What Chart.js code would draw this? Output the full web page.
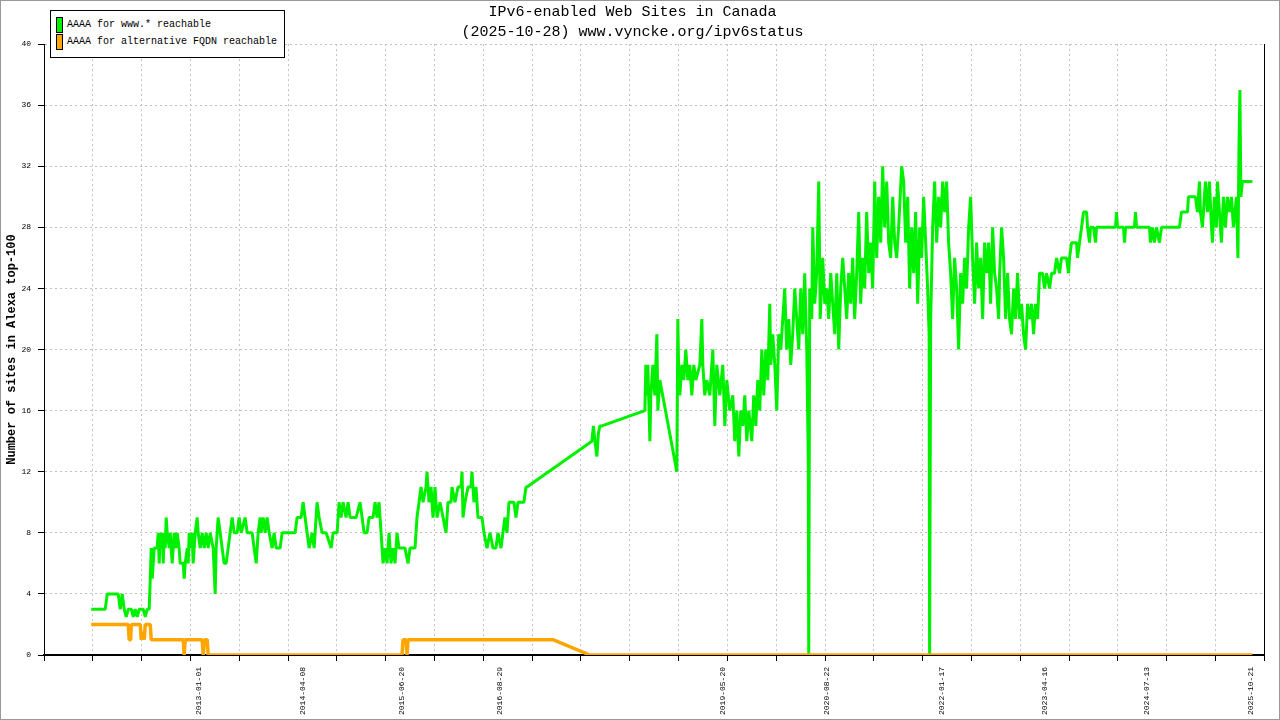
<!DOCTYPE html>
<html>
<head>
<meta charset="utf-8">
<title>IPv6-enabled Web Sites in Canada</title>
<script src="https://cdn.jsdelivr.net/npm/chart.js@4.4.1/dist/chart.umd.min.js"></script>
<style>
  html, body { margin: 0; padding: 0; background: #fff; overflow: hidden; }
  #wrap { position: relative; width: 1280px; height: 720px; }
  #frame { position: absolute; left: 0; top: 0; width: 1280px; height: 720px; box-sizing: border-box; border: 1px solid #999; pointer-events: none; }
  #legend { position: absolute; left: 50px; top: 10px; width: 235px; height: 48px; box-sizing: border-box; border: 1px solid #000; background: #fff; font-family: 'Liberation Mono', monospace; font-size: 10px; color: #000; }
  #legend .item { position: absolute; left: 5px; height: 16px; }
  #legend .swatch { position: absolute; left: 0; top: 0; width: 7px; height: 16px; box-sizing: border-box; border: 1px solid #000; }
  #legend .text { position: absolute; left: 11px; top: 0; line-height: 16px; white-space: nowrap; }
</style>
</head>
<body>
<div id="wrap">
  <canvas id="ipv6Chart" width="1280" height="720"></canvas>
  <div id="legend"></div>
  <div id="frame"></div>
</div>
<script>
// measurement dates as decimal years, values = number of sites
const wwwYears = [
  2011.689, 2011.859, 2011.884, 2012.017, 2012.042, 2012.066, 2012.090, 2012.115, 2012.139, 2012.176,
  2012.200, 2012.224, 2012.249, 2012.273, 2012.321, 2012.346, 2012.370, 2012.394, 2012.407, 2012.419,
  2012.431, 2012.443, 2012.455, 2012.492, 2012.504, 2012.516, 2012.528, 2012.540, 2012.553, 2012.565,
  2012.577, 2012.589, 2012.601, 2012.613, 2012.638, 2012.650, 2012.674, 2012.698, 2012.723, 2012.735,
  2012.759, 2012.771, 2012.808, 2012.820, 2012.832, 2012.857, 2012.869, 2012.881, 2012.893, 2012.917,
  2012.929, 2012.954, 2012.978, 2012.990, 2013.015, 2013.039, 2013.063, 2013.088, 2013.112, 2013.136,
  2013.173, 2013.197, 2013.209, 2013.221, 2013.233, 2013.258, 2013.282, 2013.306, 2013.331, 2013.355,
  2013.379, 2013.404, 2013.428, 2013.465, 2013.489, 2013.513, 2013.562, 2013.586, 2013.647, 2013.671,
  2013.696, 2013.720, 2013.744, 2013.756, 2013.781, 2013.805, 2013.829, 2013.854, 2013.890, 2013.914,
  2013.939, 2013.987, 2014.012, 2014.170, 2014.194, 2014.243, 2014.267, 2014.291, 2014.316, 2014.340,
  2014.377, 2014.401, 2014.437, 2014.462, 2014.498, 2014.547, 2014.608, 2014.632, 2014.681, 2014.705,
  2014.729, 2014.754, 2014.790, 2014.814, 2014.839, 2014.912, 2014.960, 2014.985, 2015.009, 2015.045,
  2015.070, 2015.118, 2015.143, 2015.167, 2015.191, 2015.216, 2015.240, 2015.264, 2015.289, 2015.313,
  2015.337, 2015.361, 2015.386, 2015.410, 2015.434, 2015.507, 2015.544, 2015.568, 2015.629, 2015.653,
  2015.678, 2015.702, 2015.726, 2015.763, 2015.775, 2015.799, 2015.824, 2015.848, 2015.872, 2015.897,
  2015.933, 2015.970, 2016.006, 2016.030, 2016.067, 2016.079, 2016.115, 2016.152, 2016.188, 2016.201,
  2016.213, 2016.237, 2016.274, 2016.310, 2016.322, 2016.346, 2016.371, 2016.395, 2016.444, 2016.468,
  2016.505, 2016.541, 2016.578, 2016.614, 2016.638, 2016.675, 2016.699, 2016.723, 2016.748, 2016.772,
  2016.833, 2016.857, 2016.882, 2016.954, 2016.979, 2016.991,
  2017.781, 2017.800, 2017.818, 2017.842, 2017.860, 2017.879, 2017.903,
  2018.426, 2018.438, 2018.450, 2018.462, 2018.487, 2018.499, 2018.523, 2018.547, 2018.572, 2018.584,
  2018.608, 2018.815, 2018.827, 2018.839, 2018.851, 2018.876, 2018.900, 2018.924, 2018.949, 2018.973,
  2018.997, 2019.022, 2019.046, 2019.095, 2019.119, 2019.131, 2019.155, 2019.180, 2019.216, 2019.253,
  2019.277, 2019.301, 2019.338, 2019.374, 2019.399, 2019.423, 2019.459, 2019.496, 2019.520, 2019.545,
  2019.569, 2019.593, 2019.618, 2019.642, 2019.666, 2019.691, 2019.727, 2019.751, 2019.776, 2019.800,
  2019.824, 2019.849, 2019.873, 2019.897, 2019.922, 2019.946, 2019.958, 2019.982, 2020.007, 2020.031,
  2020.055, 2020.080, 2020.104, 2020.128, 2020.152, 2020.177, 2020.201, 2020.225, 2020.250, 2020.274,
  2020.298, 2020.323, 2020.347, 2020.371, 2020.396, 2020.414, 2020.420, 2020.432, 2020.457, 2020.469,
  2020.493, 2020.517, 2020.542, 2020.560, 2020.590, 2020.615, 2020.639, 2020.663, 2020.688, 2020.712,
  2020.736, 2020.761, 2020.785, 2020.809, 2020.834, 2020.858, 2020.882, 2020.906, 2020.931, 2020.955,
  2020.979, 2021.004, 2021.028, 2021.052, 2021.077, 2021.101, 2021.125, 2021.150, 2021.174, 2021.198,
  2021.223, 2021.247, 2021.271, 2021.296, 2021.320, 2021.344, 2021.369, 2021.393, 2021.417, 2021.442,
  2021.466, 2021.490, 2021.514, 2021.551, 2021.575, 2021.600, 2021.624, 2021.648, 2021.673, 2021.697,
  2021.721, 2021.746, 2021.770, 2021.794, 2021.818, 2021.843, 2021.867, 2021.885, 2021.891, 2021.904,
  2021.928, 2021.952, 2021.977, 2022.001, 2022.025, 2022.050, 2022.074, 2022.098, 2022.122, 2022.147,
  2022.171, 2022.195, 2022.220, 2022.244, 2022.268, 2022.293, 2022.317, 2022.341, 2022.366, 2022.390,
  2022.414, 2022.439, 2022.463, 2022.487, 2022.512, 2022.536, 2022.560, 2022.585, 2022.609, 2022.633,
  2022.658, 2022.682, 2022.706, 2022.731, 2022.743, 2022.767, 2022.791, 2022.816, 2022.840, 2022.864,
  2022.888, 2022.913, 2022.937, 2022.961, 2022.986, 2023.010, 2023.034, 2023.059, 2023.083, 2023.107,
  2023.132, 2023.156, 2023.180, 2023.205, 2023.229, 2023.265, 2023.290, 2023.314, 2023.351, 2023.375,
  2023.411, 2023.436, 2023.472, 2023.496, 2023.557, 2023.582, 2023.594, 2023.618, 2023.679, 2023.691,
  2023.715, 2023.740, 2023.764, 2023.801, 2023.813, 2023.837, 2023.849, 2023.886, 2023.910, 2023.922,
  2024.153, 2024.165, 2024.178, 2024.250, 2024.263, 2024.275, 2024.384, 2024.396, 2024.409, 2024.567,
  2024.579, 2024.603, 2024.627, 2024.652, 2024.688, 2024.713, 2024.931, 2024.956, 2025.029, 2025.041,
  2025.126, 2025.150, 2025.175, 2025.187, 2025.211, 2025.235, 2025.248, 2025.272, 2025.296, 2025.321,
  2025.333, 2025.357, 2025.381, 2025.394, 2025.418, 2025.442, 2025.466, 2025.491, 2025.515, 2025.539,
  2025.564, 2025.588, 2025.625, 2025.643, 2025.655, 2025.667, 2025.679, 2025.698, 2025.734, 2025.819
];
const wwwSites = [
  3, 3, 4, 4, 3, 4, 3, 2.5, 3, 3,
  2.5, 3, 2.5, 3, 3, 2.5, 3, 3, 5, 7,
  5, 6, 7, 7, 8, 6, 8, 7, 8, 6,
  8, 7, 9, 8, 7, 8, 6, 8, 7, 8,
  7, 6, 6, 5, 6, 7, 6, 8, 7, 8,
  6, 8, 9, 8, 7, 8, 7, 8, 7, 8,
  7, 4, 7, 8, 9, 8, 7, 6, 6, 7,
  8, 9, 8, 8, 9, 8, 9, 8, 8, 7,
  6, 8, 9, 8, 9, 8, 9, 8, 7, 8,
  7, 7, 8, 8, 9, 9, 10, 9, 8, 7,
  8, 7, 10, 9, 8, 8, 7, 8, 8, 10,
  9, 10, 9, 10, 9, 9, 10, 9, 8, 8,
  9, 9, 10, 9, 10, 8, 6, 7, 6, 8,
  6, 7, 6, 8, 7, 7, 6, 7, 7, 9,
  10, 11, 10, 11, 12, 10, 11, 9, 11, 9,
  10, 9, 8, 10, 10, 11, 10, 11, 11, 12,
  9, 10, 11, 11, 12, 10, 11, 9, 9, 8,
  7, 8, 7, 7, 8, 7, 8, 9, 8, 10,
  10, 9, 10, 10, 11, 11,
  14, 15, 14, 13, 14.5, 15, 15,
  16, 19, 17, 19, 14, 17, 19, 17, 21, 16,
  18, 12, 22, 18, 17, 19, 18, 20, 18, 19,
  17, 19, 18, 19, 22, 19, 17, 18, 17, 20,
  15, 19, 17, 19, 15, 18, 16, 17, 14, 16,
  13, 16, 15, 17, 14, 16, 14, 17, 15, 18,
  16, 20, 17, 20, 18, 23, 19, 21, 19, 16,
  21, 20, 22, 24, 20, 22, 19, 21, 24, 22,
  20, 24, 21, 25, 20, 13, 0, 24, 22, 28,
  23, 25, 31, 22, 26, 23, 24, 22, 25, 23,
  21, 25, 20, 24, 26, 24, 22, 25, 23, 26,
  22, 25, 29, 23, 26, 24, 29, 25, 27, 24,
  31, 26, 30, 27, 32, 28, 31, 27, 26, 30,
  27, 26, 28, 32, 31, 27, 30, 24, 28, 25,
  29, 23, 28, 26, 30, 27, 24, 21, 0, 22,
  28, 31, 27, 30, 28, 31, 29, 31, 27, 25,
  22, 26, 24, 20, 25, 23, 26, 24, 28, 30,
  26, 23, 27, 24, 26, 22, 27, 25, 27, 23,
  28, 25, 24, 22, 25, 28, 26, 22, 25, 22,
  21, 24, 22, 25, 22, 23, 21, 20, 23, 22,
  23, 21, 23, 22, 25, 25, 24, 25, 24, 25,
  25, 26, 25, 26, 26, 25, 26, 27, 27, 26,
  27, 28, 29, 29, 28, 27, 28, 28, 27, 28,
  28, 29, 28, 28, 27, 28, 28, 29, 28, 28,
  27, 28, 27, 28, 27, 28, 28, 29, 29, 30,
  30, 29, 31, 29, 28, 30, 31, 29, 31, 28,
  27, 30, 28, 31, 29, 27, 30, 28, 30, 29,
  30, 28, 30, 26, 33, 37, 30, 31, 31, 31
];

const altYears = [
  2011.689, 2012.139, 2012.151, 2012.169, 2012.176, 2012.285, 2012.297, 2012.321, 2012.334, 2012.346,
  2012.407, 2012.419, 2012.808, 2012.820, 2012.832, 2013.039, 2013.051, 2013.069, 2013.100, 2013.112,
  2015.471, 2015.483, 2015.520, 2015.532, 2015.544, 2017.307, 2017.757, 2025.819
];
const altSites = [
  2, 2, 1, 1, 2, 2, 1, 1.5, 1, 2,
  2, 1, 1, 0, 1, 1, 0, 1, 1, 0,
  0, 1, 1, 0, 1, 1, 0, 0
];

const dateLabels = ['2013-01-01', '2014-04-08', '2015-06-20', '2016-08-29', '2019-05-20',
                    '2020-08-22', '2022-01-17', '2023-04-16', '2024-07-13', '2025-10-21'];

const seriesNames = ['AAAA for www.* reachable', 'AAAA for alternative FQDN reachable'];
const titleLines = ['IPv6-enabled Web Sites in Canada', '(2025-10-28) www.vyncke.org/ipv6status'];
const yAxisTitle = 'Number of sites in Alexa top-100';

const xMin = 2011.114;
const xMax = 2025.965;
const xDivisions = 25;
const yMax = 40;
const yStep = 4;

function decimalYear(s) {
    const [y, m, d] = s.split('-').map(Number);
    const start = Date.UTC(y, 0, 1);
    const end = Date.UTC(y + 1, 0, 1);
    return y + (Date.UTC(y, m - 1, d) - start) / (end - start);
}

function toPoints(xs, ys) {
    return xs.map((x, i) => ({ x: x, y: ys[i] }));
}

const monoFont = 'Liberation Mono';
const clear = 'rgba(0,0,0,0)';
const gridGrey = '#c0c0c0';

const chart = new Chart(document.getElementById('ipv6Chart'), {
    type: 'line',
    data: {
        datasets: [{
            label: seriesNames[0],
            data: toPoints(wwwYears, wwwSites),
            borderColor: '#00f000',
            backgroundColor: '#00f000',
            borderWidth: 3,
            borderJoinStyle: 'bevel',
            pointRadius: 0,
            tension: 0,
            order: 1,
            xAxisID: 'x',
            yAxisID: 'y'
        }, {
            label: seriesNames[1],
            data: toPoints(altYears, altSites),
            borderColor: '#ffa500',
            backgroundColor: '#ffa500',
            borderWidth: 3.5,
            borderJoinStyle: 'bevel',
            pointRadius: 0,
            tension: 0,
            order: 0,
            xAxisID: 'x',
            yAxisID: 'y'
        }]
    },
    options: {
        responsive: false,
        devicePixelRatio: 1,
        animation: false,
        events: [],
        layout: { padding: { left: 0, right: 15, top: 0, bottom: 0 } },
        plugins: {
            legend: { display: false },
            tooltip: { enabled: false },
            title: {
                display: true,
                text: titleLines,
                color: '#000',
                font: { family: monoFont, size: 15, weight: 'normal', lineHeight: 1.27 },
                padding: { top: 3, bottom: 3 }
            }
        },
        scales: {
            x: {
                type: 'linear',
                position: 'bottom',
                min: xMin,
                max: xMax,
                afterBuildTicks: scale => {
                    const ticks = [];
                    for (let k = 0; k <= xDivisions; k++) {
                        ticks.push({ value: xMin + k * (xMax - xMin) / xDivisions, text: '', minor: true, edge: k === 0 || k === xDivisions });
                    }
                    dateLabels.forEach(s => ticks.push({ value: decimalYear(s), text: s, minor: false }));
                    ticks.sort((a, b) => a.value - b.value);
                    scale.ticks = ticks;
                },
                afterFit: scale => { scale.height = 65; },
                ticks: {
                    autoSkip: false,
                    minRotation: 90,
                    maxRotation: 90,
                    padding: 6,
                    color: '#000',
                    font: { family: monoFont, size: 8 },
                    callback: (value, index, ticks) => ticks[index].text
                },
                grid: {
                    lineWidth: 1,
                    tickLength: 6,
                    tickBorderDash: [],
                    color: ctx => (ctx.tick && ctx.tick.minor && !ctx.tick.edge) ? gridGrey : clear,
                    tickColor: ctx => (ctx.tick && ctx.tick.minor) ? '#000' : clear
                },
                border: { color: '#000', width: 2, dash: [2, 3] }
            },
            y: {
                position: 'left',
                min: 0,
                max: yMax,
                afterFit: scale => { scale.width = 44; },
                ticks: {
                    stepSize: yStep,
                    padding: 7,
                    color: '#000',
                    font: { family: monoFont, size: 8 }
                },
                grid: {
                    lineWidth: 1,
                    tickLength: 6,
                    tickBorderDash: [],
                    color: ctx => (ctx.tick && ctx.tick.value === 0) ? clear : gridGrey,
                    tickColor: '#000'
                },
                border: { color: '#000', width: 1, dash: [2, 3] },
                title: {
                    display: true,
                    text: yAxisTitle,
                    color: '#000',
                    font: { family: monoFont, size: 12, weight: 'bold' },
                    padding: { top: 5, bottom: 0 }
                }
            },
            yRight: {
                position: 'right',
                min: 0,
                max: yMax,
                afterFit: scale => { scale.width = 0; },
                ticks: { display: false },
                grid: { drawOnChartArea: false, drawTicks: false },
                border: { color: '#000', width: 1 }
            }
        }
    }
});

// legend box drawn from the chart's own datasets
const legendBox = document.getElementById('legend');
chart.data.datasets.forEach((ds, i) => {
    const item = document.createElement('div');
    item.className = 'item';
    item.style.top = (6 + i * 17) + 'px';
    const swatch = document.createElement('div');
    swatch.className = 'swatch';
    swatch.style.background = ds.borderColor;
    const text = document.createElement('div');
    text.className = 'text';
    text.textContent = ds.label;
    item.appendChild(swatch);
    item.appendChild(text);
    legendBox.appendChild(item);
});
</script>
</body>
</html>
